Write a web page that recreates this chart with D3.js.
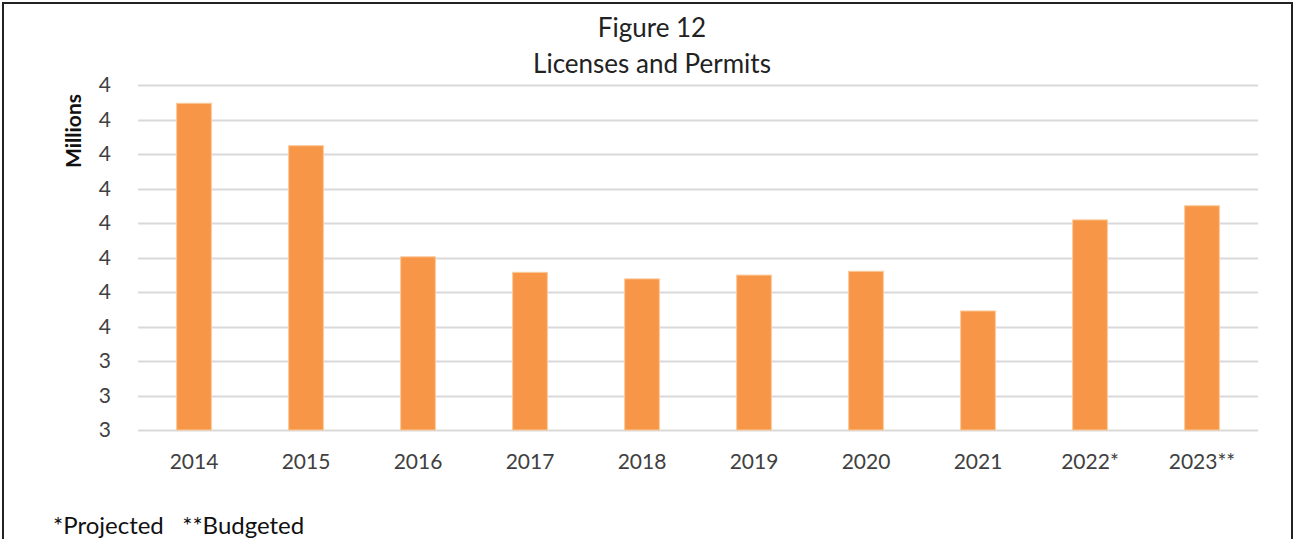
<!DOCTYPE html>
<html>
<head>
<meta charset="utf-8">
<script src="https://cdn.jsdelivr.net/npm/d3@7"></script>
<style>
  body { margin: 0; background: #fff; }
  svg { display: block; font-family: Lato, "Open Sans", sans-serif; }
</style>
</head>
<body>
<svg id="chart"></svg>
<script>
// chart data, values in millions
var years = ["2014", "2015", "2016", "2017", "2018", "2019", "2020", "2021", "2022*", "2023**"];
var amounts = [4.147, 4.024, 3.702, 3.657, 3.638, 3.649, 3.660, 3.545, 3.809, 3.850];
var yTicks = [3.2, 3.3, 3.4, 3.5, 3.6, 3.7, 3.8, 3.9, 4.0, 4.1, 4.2];
var titleLines = ["Figure 12", "Licenses and Permits"];
var footnote = "*Projected   **Budgeted";

function drawChart() {
    var width = 1296, height = 539;
    var plotLeft = 138, plotRight = 1258, plotTop = 85, plotBottom = 430;

    var svg = d3.select("#chart")
        .attr("width", width)
        .attr("height", height);

    // outer frame
    svg.append("rect")
        .attr("x", 3)
        .attr("y", 3)
        .attr("width", 1289)
        .attr("height", 560)
        .attr("fill", "#fff")
        .attr("stroke", "#222")
        .attr("stroke-width", 2);

    var x = d3.scaleBand()
        .domain(years)
        .range([plotLeft, plotRight])
        .paddingInner(0.69)
        .paddingOuter(0.345);

    var y = d3.scaleLinear()
        .domain([3.2, 4.2])
        .range([plotBottom, plotTop]);

    // gridlines
    svg.append("g")
        .selectAll("line")
        .data(yTicks)
        .enter()
        .append("line")
        .attr("x1", plotLeft)
        .attr("x2", plotRight)
        .attr("y1", function(d) { return Math.round(y(d)) + 0.5; })
        .attr("y2", function(d) { return Math.round(y(d)) + 0.5; })
        .attr("stroke", "#d9d9d9")
        .attr("stroke-width", 2);

    // y axis labels (rounded to whole millions like the original)
    var yAxis = d3.axisLeft(y)
        .tickValues(yTicks)
        .tickSize(0)
        .tickPadding(0)
        .tickFormat(function(d) { return d3.format(".0f")(d + 1e-9); });

    var yG = svg.append("g")
        .attr("transform", "translate(111,0)")
        .call(yAxis);
    yG.select(".domain").remove();
    yG.selectAll("text")
        .attr("font-size", 21)
        .attr("fill", "#404040")
        .attr("font-family", "Lato, sans-serif");

    // bars
    svg.append("g")
        .selectAll("rect")
        .data(amounts)
        .enter()
        .append("rect")
        .attr("x", function(d, i) { return x(years[i]); })
        .attr("y", function(d) { return y(d); })
        .attr("width", x.bandwidth())
        .attr("height", function(d) { return plotBottom - y(d); })
        .attr("fill", "#f79646")
        .attr("stroke", "#fbc99a")
        .attr("stroke-width", 1);

    // x axis labels
    var xAxis = d3.axisBottom(x)
        .tickSize(0)
        .tickPadding(0);

    var xG = svg.append("g")
        .attr("transform", "translate(0,454)")
        .call(xAxis);
    xG.select(".domain").remove();
    xG.selectAll("text")
        .attr("font-size", 21)
        .attr("fill", "#404040")
        .attr("font-family", "Lato, sans-serif");

    // title
    svg.append("g")
        .selectAll("text")
        .data(titleLines)
        .enter()
        .append("text")
        .text(function(d) { return d; })
        .attr("x", 652)
        .attr("y", function(d, i) { return 37 + i * 36; })
        .attr("text-anchor", "middle")
        .attr("font-size", 26)
        .attr("fill", "#222");

    // axis title
    svg.append("text")
        .text("Millions")
        .attr("transform", "translate(81,131) rotate(-90)")
        .attr("text-anchor", "middle")
        .attr("font-size", 21)
        .attr("font-weight", "bold")
        .attr("fill", "#111");

    // footnote
    svg.append("text")
        .text(footnote)
        .attr("x", 53)
        .attr("y", 534)
        .attr("font-size", 24)
        .attr("fill", "#111")
        .style("white-space", "pre");
}

drawChart();
</script>
</body>
</html>
